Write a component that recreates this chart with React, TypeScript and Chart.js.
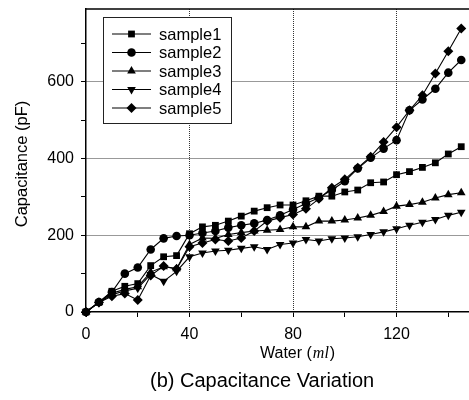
import React, { useEffect, useRef } from 'react';
import { Chart, registerables } from 'chart.js';

Chart.register(...registerables);

const waterMl = [0, 5, 10, 15, 20, 25, 30, 35, 40, 45, 50, 55, 60, 65, 70, 75, 80, 85, 90, 95, 100, 105, 110, 115, 120, 125, 130, 135, 140, 145];
const sample1 = [0, 25, 54, 67, 74, 121, 144, 147, 204, 222, 226, 237, 250, 263, 272, 279, 279, 290, 302, 302, 313, 318, 337, 339, 358, 366, 377, 389, 412, 431];
const sample2 = [0, 26, 52, 100, 116, 163, 192, 198, 200, 206, 211, 220, 226, 231, 240, 252, 267, 283, 298, 318, 341, 374, 402, 426, 448, 526, 554, 582, 624, 657];
const sample3 = [0, 25, 49, 59, 66, 104, 118, 113, 176, 193, 192, 202, 207, 211, 213, 215, 222, 222, 237, 237, 240, 245, 252, 262, 276, 280, 286, 297, 306, 311];
const sample4 = [0, 25, 45, 55, 62, 98, 80, 106, 144, 154, 159, 161, 166, 170, 163, 176, 180, 189, 185, 191, 193, 196, 202, 209, 217, 226, 234, 241, 252, 260];
const sample5 = [0, 25, 41, 48, 31, 95, 120, 112, 170, 180, 189, 185, 193, 211, 237, 246, 254, 269, 295, 324, 346, 376, 405, 443, 482, 526, 565, 622, 680, 739];

const xTickValues = [0, 20, 40, 60, 80, 100, 120, 140];
const xTickLabels = ['0', '', '40', '', '80', '', '120', ''];
const yTickValues = [0, 100, 200, 300, 400, 500, 600, 700];
const yTickLabels = ['0', '', '200', '', '400', '', '600', ''];

const seriesLabels = ['sample1', 'sample2', 'sample3', 'sample4', 'sample5'];
const seriesValues = [sample1, sample2, sample3, sample4, sample5];
const pointStyles = ['rect', 'circle', 'triangle', 'triangle', 'rectRot'];
const pointRotations = [0, 0, 0, 180, 0];
const pointRadii = [4.8, 4.3, 5, 5, 5];

const xTitleMain = 'Water (';
const xTitleUnit = 'ml';
const xTitleEnd = ')';
const yTitle = 'Capacitance (pF)';
const caption = '(b) Capacitance Variation';

const SANS = '"Liberation Sans", Arial, sans-serif';
const SERIF = '"Liberation Serif", "Times New Roman", serif';

function drawMarker(ctx: CanvasRenderingContext2D, style: string, rot: number, x: number, y: number, r: number) {
  ctx.beginPath();
  if (style === 'rect') {
    const s = Math.SQRT1_2 * r;
    ctx.rect(x - s, y - s, 2 * s, 2 * s);
  } else if (style === 'circle') {
    ctx.arc(x, y, r, 0, Math.PI * 2);
  } else if (style === 'triangle') {
    const base = rot === 180 ? Math.PI / 2 : -Math.PI / 2;
    for (let i = 0; i < 3; i++) {
      const a = base + (i * 2 * Math.PI) / 3;
      const px = x + Math.cos(a) * r;
      const py = y + Math.sin(a) * r;
      if (i === 0) ctx.moveTo(px, py);
      else ctx.lineTo(px, py);
    }
    ctx.closePath();
  } else if (style === 'rectRot') {
    ctx.moveTo(x, y - r);
    ctx.lineTo(x + r, y);
    ctx.lineTo(x, y + r);
    ctx.lineTo(x - r, y);
    ctx.closePath();
  }
  ctx.fill();
}

const overlayPlugin = {
  id: 'overlay',
  afterDraw(chart: any) {
    const ctx: CanvasRenderingContext2D = chart.ctx;
    const area = chart.chartArea;
    ctx.save();
    // top border
    ctx.strokeStyle = '#000';
    ctx.lineWidth = 1.5;
    ctx.beginPath();
    ctx.moveTo(area.left, area.top);
    ctx.lineTo(area.right, area.top);
    ctx.stroke();

    // legend
    const lx = 103, ly = 17, lw = 128, lh = 106;
    ctx.fillStyle = '#fff';
    ctx.fillRect(lx, ly, lw, lh);
    ctx.strokeStyle = '#222';
    ctx.lineWidth = 1;
    ctx.strokeRect(lx + 0.5, ly + 0.5, lw, lh);
    ctx.font = '16.5px ' + SANS;
    ctx.textBaseline = 'middle';
    ctx.textAlign = 'left';
    chart.data.datasets.forEach((ds: any, i: number) => {
      const yy = 34 + i * 18.5;
      ctx.strokeStyle = '#000';
      ctx.lineWidth = 1.1;
      ctx.beginPath();
      ctx.moveTo(112, yy);
      ctx.lineTo(151, yy);
      ctx.stroke();
      ctx.fillStyle = '#000';
      drawMarker(ctx, pointStyles[i], pointRotations[i], 131.5, yy, pointRadii[i]);
      ctx.fillStyle = '#000';
      ctx.fillText(ds.label, 159, yy + 1);
    });

    // x title
    ctx.fillStyle = '#000';
    ctx.textBaseline = 'alphabetic';
    let x = 260;
    const by = 358;
    ctx.font = '16px ' + SANS;
    ctx.fillText(xTitleMain, x, by);
    x += ctx.measureText(xTitleMain).width;
    ctx.font = 'italic 16px ' + SERIF;
    ctx.fillText(xTitleUnit, x + 1, by);
    x += ctx.measureText(xTitleUnit).width + 2;
    ctx.font = '16px ' + SANS;
    ctx.fillText(xTitleEnd, x, by);

    // caption
    ctx.font = '20px ' + SANS;
    ctx.fillText(caption, 150, 387);

    // y title
    ctx.translate(22, 164);
    ctx.rotate(-Math.PI / 2);
    ctx.textAlign = 'center';
    ctx.textBaseline = 'middle';
    ctx.font = '16.5px ' + SANS;
    ctx.fillText(yTitle, 0, 0);
    ctx.restore();
  },
};

export default function App() {
  const ref = useRef<HTMLCanvasElement | null>(null);
  useEffect(() => {
    if (!ref.current) return;
    const chart = new Chart(ref.current, {
      type: 'line',
      data: {
        datasets: seriesValues.map((vals, i) => ({
          label: seriesLabels[i],
          data: waterMl.map((w, j) => ({ x: w, y: vals[j] })),
          borderColor: '#000',
          backgroundColor: '#000',
          borderWidth: 1.1,
          pointStyle: pointStyles[i] as any,
          pointRotation: pointRotations[i],
          pointRadius: pointRadii[i],
          pointBorderWidth: 0,
          pointBackgroundColor: '#000',
          tension: 0,
          fill: false,
          clip: false,
        })),
      },
      options: {
        responsive: false,
        animation: false,
        layout: { autoPadding: false, padding: { top: 9, left: 0, right: 0, bottom: 0 } },
        plugins: { legend: { display: false }, tooltip: { enabled: false }, title: { display: false } },
        scales: {
          x: {
            type: 'linear',
            min: 0,
            max: 148,
            afterFit: (s: any) => { s.height = 88; s.paddingLeft = 0; s.paddingRight = 0; },
            afterBuildTicks: (s: any) => { s.ticks = xTickValues.map((v) => ({ value: v })); },
            ticks: {
              autoSkip: false,
              maxRotation: 0,
              color: '#000',
              padding: 8,
              font: { family: SANS, size: 16 },
              callback: (_v: any, i: number) => xTickLabels[i],
            },
            grid: {
              color: (c: any) => (c.tick && c.tick.value % 40 === 0 && c.tick.value !== 0 ? '#333' : 'rgba(0,0,0,0)'),
              tickColor: '#000',
              tickLength: 5,
              lineWidth: 1,
            },
            border: { display: true, color: '#000', width: 1.5, dash: [1, 1] },
          },
          y: {
            type: 'linear',
            min: 0,
            max: 790,
            afterFit: (s: any) => { s.width = 86; s.paddingTop = 0; s.paddingBottom = 0; },
            afterBuildTicks: (s: any) => { s.ticks = yTickValues.map((v) => ({ value: v })); },
            ticks: {
              autoSkip: false,
              color: '#000',
              padding: 7,
              font: { family: SANS, size: 16 },
              callback: (_v: any, i: number) => yTickLabels[i],
            },
            grid: {
              color: (c: any) => (c.tick && c.tick.value % 200 === 0 && c.tick.value !== 0 ? '#333' : 'rgba(0,0,0,0)'),
              tickColor: '#000',
              tickLength: 5,
              lineWidth: 1,
            },
            border: { display: true, color: '#000', width: 1.5, dash: [1, 1] },
          },
        },
      },
      plugins: [overlayPlugin],
    } as any);
    return () => chart.destroy();
  }, []);
  return (
    <div style={{ position: 'fixed', left: 0, top: 0, width: 469, height: 400, background: '#fff' }}>
      <canvas ref={ref} width={469} height={400} style={{ width: 469, height: 400 }} />
    </div>
  );
}
